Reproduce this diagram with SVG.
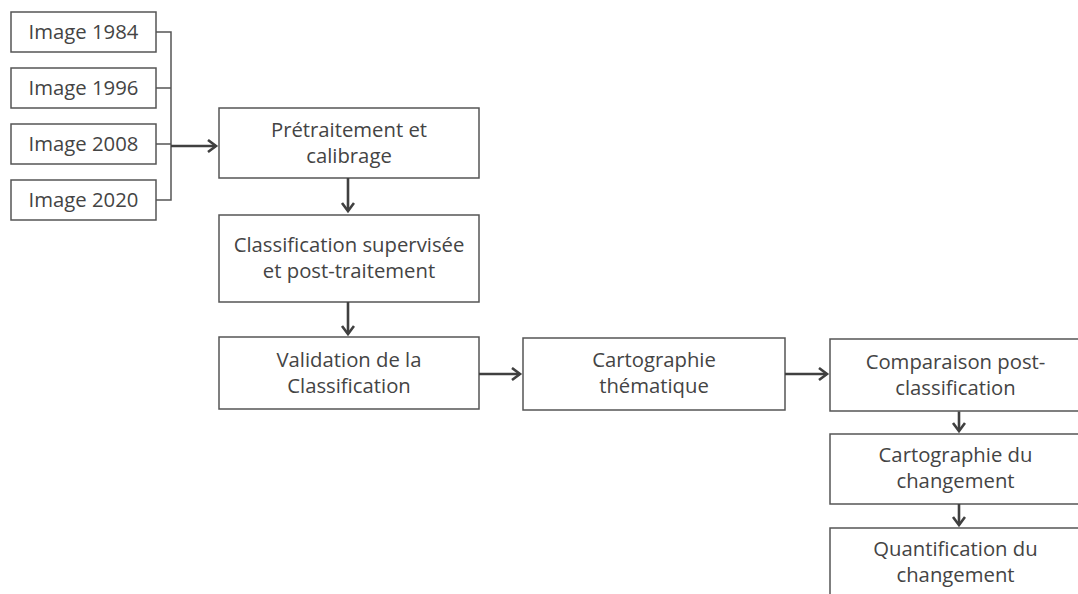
<svg xmlns="http://www.w3.org/2000/svg" width="1078" height="594" viewBox="0 0 1078 594">
<style>
.box{fill:#fff;stroke:#555;stroke-width:1.5}
.t{font-family:"Open Sans","Noto Sans",sans-serif;font-size:20.3px;fill:#444;text-anchor:middle}
.br{fill:none;stroke:#555;stroke-width:1.5}
.ar{fill:none;stroke:#404040;stroke-width:2.6;marker-end:url(#ah)}
</style>
<defs>
<marker id="ah" markerUnits="userSpaceOnUse" markerWidth="14" markerHeight="16" refX="10" refY="7" orient="auto">
<path d="M2,1 L10,7 L2,13" fill="none" stroke="#404040" stroke-width="2.6"/>
</marker>
</defs>
<rect width="1078" height="594" fill="#fff"/>
<g id="img1984"><rect class="box" x="11" y="12" width="145" height="40"/><text class="t" x="83.5" y="39">Image 1984</text></g>
<g id="img1996"><rect class="box" x="11" y="68" width="145" height="40"/><text class="t" x="83.5" y="95">Image 1996</text></g>
<g id="img2008"><rect class="box" x="11" y="124" width="145" height="40"/><text class="t" x="83.5" y="151">Image 2008</text></g>
<g id="img2020"><rect class="box" x="11" y="180" width="145" height="40"/><text class="t" x="83.5" y="207">Image 2020</text></g>
<g id="pretraitement"><rect class="box" x="219" y="108" width="260" height="70"/><text class="t" x="349" y="137">Prétraitement et</text><text class="t" x="349" y="163">calibrage</text></g>
<g id="classification"><rect class="box" x="219" y="215" width="260" height="87"/><text class="t" x="349" y="252">Classification supervisée</text><text class="t" x="349" y="278">et post-traitement</text></g>
<g id="validation"><rect class="box" x="219" y="337" width="260" height="72"/><text class="t" x="349" y="367">Validation de la</text><text class="t" x="349" y="393">Classification</text></g>
<g id="cartotheme"><rect class="box" x="523" y="338" width="262" height="72"/><text class="t" x="654" y="367">Cartographie</text><text class="t" x="654" y="393">thématique</text></g>
<g id="comparaison"><rect class="box" x="830" y="339" width="251" height="72"/><text class="t" x="955.5" y="369">Comparaison post-</text><text class="t" x="955.5" y="395">classification</text></g>
<g id="cartochange"><rect class="box" x="830" y="434" width="251" height="70"/><text class="t" x="955.5" y="462">Cartographie du</text><text class="t" x="955.5" y="488">changement</text></g>
<g id="quantification"><rect class="box" x="830" y="528" width="251" height="72"/><text class="t" x="955.5" y="556">Quantification du</text><text class="t" x="955.5" y="582">changement</text></g>
<g id="connectors">
<path class="br" d="M156,32 H171 V200 H156 M156,88 H171 M156,144 H171"/>
<path class="ar" d="M171,146 H216"/>
<path class="ar" d="M348,178 V211"/>
<path class="ar" d="M348,302 V334"/>
<path class="ar" d="M479,374 H520"/>
<path class="ar" d="M785,374 H827"/>
<path class="ar" d="M959,411.5 V431"/>
<path class="ar" d="M959,504 V525"/>
</g>
</svg>
